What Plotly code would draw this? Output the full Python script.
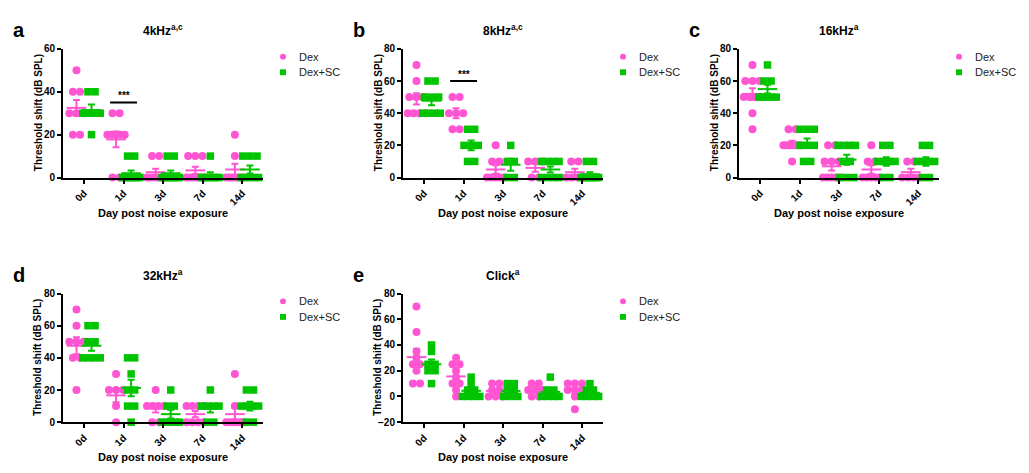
import numpy as np
import plotly.graph_objects as go

# ---------------- data ----------------
DAYS = ["0d", "1d", "3d", "7d", "14d"]
SERIES = ["Dex", "Dex+SC"]

A_DEX = [[50, 40, 40, 30, 30, 30, 20, 20], [30, 30, 20, 20, 20, 20, 20, 0, 0],
         [10, 10, 0, 0, 0, 0, 0, 0], [10, 10, 10, 0, 0, 0, 0, 0, 0], [20, 10, 0, 0, 0, 0, 0, 0]]
A_SC = [[40, 40, 30, 30, 30, 30, 20], [10, 10, 0, 0, 0, 0, 0, 0, 0, 0],
        [10, 10, 0, 0, 0, 0, 0, 0, 0, 0], [10, 0, 0, 0, 0, 0, 0, 0], [10, 10, 10, 0, 0, 0, 0, 0]]

B_DEX = [[70, 60, 50, 50, 50, 40, 40, 40, 40], [50, 50, 40, 40, 40, 30, 30],
         [20, 10, 10, 0, 0, 0, 0, 0], [10, 10, 10, 0, 0], [10, 10, 0, 0, 0, 0]]
B_SC = [[60, 60, 50, 50, 50, 40, 40, 40, 40], [30, 30, 20, 20, 20, 10, 10],
        [20, 10, 10, 0, 0], [10, 10, 10, 10, 0, 0, 0, 0], [10, 10, 0, 0, 0, 0, 0, 0, 0, 0]]

C_DEX = [[70, 60, 60, 60, 50, 50, 50, 50, 40, 30], [30, 30, 20, 20, 20, 20, 20, 20, 20, 10],
         [20, 20, 10, 10, 10, 0, 0, 0, 0, 0], [20, 10, 10, 0, 0, 0, 0, 0], [10, 10, 0, 0, 0, 0]]
C_SC = [[70, 60, 60, 50, 50, 50, 50, 50], [30, 30, 30, 20, 20, 20, 10, 10],
        [20, 20, 20, 20, 10, 10, 0, 0, 0], [20, 20, 10, 10, 10, 10, 0, 0], [20, 20, 10, 10, 10, 10, 0, 0]]

D_DEX = [[70, 60, 50, 50, 50, 40, 40, 20], [30, 20, 20, 20, 10, 0],
         [20, 10, 10, 10, 10, 0, 0], [10, 10, 10, 10, 0, 0, 0, 0], [30, 10, 0, 0, 0, 0, 0, 0]]
D_SC = [[60, 60, 50, 50, 40, 40, 40, 40], [40, 40, 30, 20, 20, 10, 10, 0],
        [20, 10, 10, 0, 0, 0, 0, 0], [20, 10, 10, 10, 10, 0, 0], [20, 20, 10, 10, 10, 10, 0, 0]]

E_DEX = [[70, 50, 35, 30, 25, 25, 20, 10, 10], [30, 25, 25, 20, 15, 10, 10, 5, 0],
         [10, 10, 5, 5, 0, 0, 0], [10, 10, 5, 5, 5, 0, 0], [10, 10, 10, 5, 5, 5, 0, -10]]
E_SC = [[40, 35, 25, 25, 20, 20, 10], [15, 10, 5, 5, 0, 0, 0, 0],
        [10, 10, 5, 5, 0, 0, 0], [15, 5, 5, 0, 0, 0, 0], [10, 5, 5, 0, 0, 0, 0]]

PANEL_LETTERS = ["a", "b", "c", "d", "e"]
PANEL_TITLES = ["4kHz<sup>a,c</sup>", "8kHz<sup>a,c</sup>", "16kHz<sup>a</sup>",
                "32kHz<sup>a</sup>", "Click<sup>a</sup>"]
Y_RANGES = [[0, 60], [0, 80], [0, 80], [0, 80], [-20, 80]]
Y_TICKS = [[0, 20, 40, 60], [0, 20, 40, 60, 80], [0, 20, 40, 60, 80],
           [0, 20, 40, 60, 80], [-20, 0, 20, 40, 60, 80]]
PANEL_DATA = [(A_DEX, A_SC), (B_DEX, B_SC), (C_DEX, C_SC), (D_DEX, D_SC), (E_DEX, E_SC)]
# significance (*** at day index 1) : panel index -> bar level
SIG_LEVELS = {0: 35, 1: 60}
SIG_DAY = 1

# ---------------- style / layout ----------------
W, H = 1029, 473
PINK = "#FF55D2"
GREEN = "#00C400"
COLORS = [PINK, GREEN]
SYMBOLS = ["circle", "square"]
OFFSETS = [-0.19, 0.19]
FONT = "Arial, Liberation Sans, sans-serif"

# pixel boxes: (x0, x1, ytop, ybottom)
BOXES = [(63, 263, 44, 176), (403, 603, 44, 176), (739, 939, 44, 176),
         (63, 263, 295, 427), (403, 603, 295, 427)]


def swarm(values, center, step=0.18, maxw=0.44):
    xs, ys = [], []
    vals = np.asarray(values, dtype=float)
    for v in np.unique(vals):
        k = int(np.sum(vals == v))
        st = step if k <= 1 else min(step, maxw / (k - 1))
        offs = (np.arange(k) - (k - 1) / 2.0) * st
        xs.extend(center + offs)
        ys.extend([v] * k)
    return xs, ys


def px(x):
    return x / W


def py(y):
    return 1 - y / H


fig = go.Figure()
annotations = []
shapes = []
layout = dict(width=W, height=H, margin=dict(l=0, r=0, t=0, b=0),
              paper_bgcolor="white", plot_bgcolor="white", showlegend=False,
              font=dict(family=FONT, color="black", size=10))

for p in range(5):
    n = p + 1
    xname = "x" if n == 1 else f"x{n}"
    yname = "y" if n == 1 else f"y{n}"
    x0, x1, yt, yb = BOXES[p]

    layout["xaxis" if n == 1 else f"xaxis{n}"] = dict(
        domain=[px(x0), px(x1)], anchor=yname, range=[-0.53, 4.52],
        showline=True, linecolor="black", linewidth=2,
        ticks="outside", ticklen=4, tickwidth=1.5, tickcolor="black",
        tickvals=list(range(len(DAYS))), ticktext=DAYS, tickangle=-45,
        tickfont=dict(size=10, family=FONT, weight="bold"),
        showgrid=False, zeroline=False, fixedrange=True)
    layout["yaxis" if n == 1 else f"yaxis{n}"] = dict(
        domain=[py(yb), py(yt)], anchor=xname, range=Y_RANGES[p],
        showline=True, linecolor="black", linewidth=2,
        ticks="outside", ticklen=4, tickwidth=1.5, tickcolor="black",
        tickvals=Y_TICKS[p], tickfont=dict(size=10, family=FONT, weight="bold"),
        showgrid=False, zeroline=False, fixedrange=True)

    for s in range(2):
        groups = PANEL_DATA[p][s]
        xs, ys, mx, my, se = [], [], [], [], []
        for i, g in enumerate(groups):
            c = i + OFFSETS[s]
            gx, gy = swarm(g, c)
            xs += list(gx)
            ys += list(gy)
            arr = np.asarray(g, dtype=float)
            mx.append(c)
            my.append(arr.mean())
            se.append(arr.std(ddof=1) / np.sqrt(len(arr)))
        fig.add_trace(go.Scatter(
            x=xs, y=ys, mode="markers", name=SERIES[s],
            marker=dict(symbol=SYMBOLS[s], size=8 if s == 0 else 7.5, color=COLORS[s]),
            xaxis=xname, yaxis=yname, cliponaxis=False))
        fig.add_trace(go.Scatter(
            x=mx, y=my, mode="markers", name=SERIES[s] + " mean ± SEM",
            marker=dict(symbol="line-ew", size=14, color=COLORS[s],
                        line=dict(width=2, color=COLORS[s])),
            error_y=dict(type="data", array=se, color=COLORS[s], thickness=2, width=3.5),
            xaxis=xname, yaxis=yname, cliponaxis=False))

        # legend entry (drawn manually to match the compact legend)
        ly = (yt + 8 + 16 * s)
        lx = x1 + 20
        shapes.append(dict(type="circle" if s == 0 else "rect", xref="paper", yref="paper",
                           x0=px(lx - 3), x1=px(lx + 3), y0=py(ly + 3), y1=py(ly - 3),
                           fillcolor=COLORS[s], line=dict(width=0)))
        annotations.append(dict(text=SERIES[s], x=px(lx + 14), y=py(ly), xref="paper", yref="paper",
                                showarrow=False, xanchor="left", yanchor="middle",
                                font=dict(size=11, family=FONT, color="#222")))

    cx = (x0 + x1) / 2
    ttl_y = yt - 19
    annotations.append(dict(text=f"<b>{PANEL_TITLES[p]}</b>", x=px(cx), y=py(ttl_y),
                            xref="paper", yref="paper", showarrow=False,
                            font=dict(size=12, family=FONT), xanchor="center", yanchor="middle"))
    annotations.append(dict(text=f"<b>{PANEL_LETTERS[p]}</b>", x=px(x0 - 52), y=py(ttl_y),
                            xref="paper", yref="paper", showarrow=False,
                            font=dict(size=20, family=FONT), xanchor="left", yanchor="middle"))
    annotations.append(dict(text="<b>Threshold shift (dB SPL)</b>", x=px(x0 - 25),
                            y=py((yt + yb) / 2), xref="paper", yref="paper",
                            showarrow=False, textangle=-90,
                            font=dict(size=10, family=FONT), xanchor="center", yanchor="middle"))
    annotations.append(dict(text="<b>Day post noise exposure</b>", x=px(cx), y=py(yb + 36),
                            xref="paper", yref="paper", showarrow=False,
                            font=dict(size=11, family=FONT), xanchor="center", yanchor="middle"))

    if p in SIG_LEVELS:
        lvl = SIG_LEVELS[p]
        shapes.append(dict(type="line", xref=xname, yref=yname,
                           x0=SIG_DAY - 0.34, x1=SIG_DAY + 0.34, y0=lvl, y1=lvl,
                           line=dict(color="black", width=2)))
        annotations.append(dict(text="<b>***</b>", x=SIG_DAY, y=lvl, xref=xname, yref=yname,
                                showarrow=False, yanchor="bottom", yshift=-1,
                                font=dict(size=10, family=FONT)))

layout["annotations"] = annotations
layout["shapes"] = shapes
fig.update_layout(**layout)
fig.write_html("out.html", config={"displayModeBar": False},
               post_script="document.body.style.margin='0px';document.body.style.overflow='hidden';")
